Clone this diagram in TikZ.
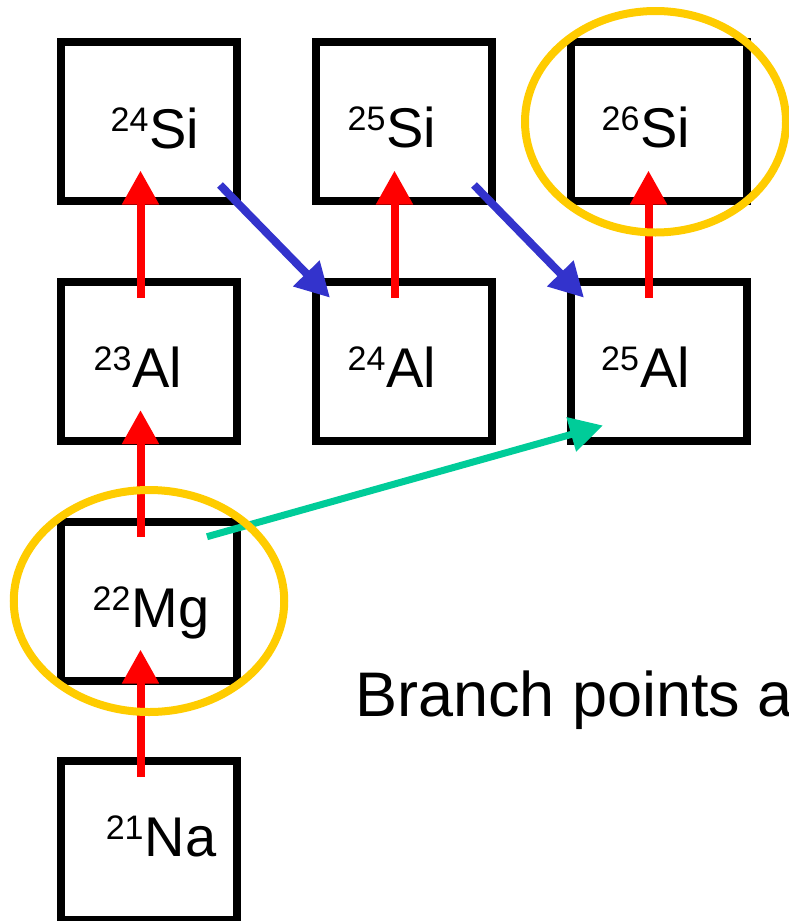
\documentclass[tikz,border=0pt]{standalone}
\usepackage{fontspec}
\setmainfont{Liberation Sans}
\usetikzlibrary{arrows.meta,calc,shapes.geometric}
\definecolor{capred}{HTML}{FF0000}
\definecolor{decayblue}{HTML}{3333CC}
\definecolor{branchgreen}{HTML}{00CC99}
\definecolor{ringgold}{HTML}{FFCC00}
% isotope label: mass number raised, element symbol at base size
\newcommand{\iso}[2]{\raisebox{16.5pt}{\fontsize{34}{34}\selectfont #1}\kern1pt{\fontsize{56}{56}\selectfont #2}}
\begin{document}
\begin{tikzpicture}[x=1pt,y=-1pt,
  nucbox/.style={draw=black,line width=8pt,minimum width=176pt,minimum height=159pt,
    inner sep=0pt,outer sep=0pt,rectangle},
  isolabel/.style={anchor=base,inner sep=0pt,outer sep=0pt},
  ring/.style={draw=ringgold,line width=8pt,ellipse,inner sep=0pt,outer sep=0pt},
  pcap/.style={draw=capred,line width=8pt,-{Triangle[width=35pt,length=34pt]},fill=capred},
  bdecay/.style={draw=decayblue,line width=8pt,-{Triangle[width=35pt,length=34pt]},fill=decayblue},
  branch/.style={draw=branchgreen,line width=7pt,-{Triangle[width=34pt,length=33pt]},fill=branchgreen}]
\useasboundingbox (0,0) rectangle (789,921);
\clip (0,0) rectangle (789,921);

% chart cells
\node[nucbox] (si24) at (149,121.5) {};
\node[nucbox] (si25) at (404,121.5) {};
\node[nucbox] (si26) at (659,121.5) {};
\node[nucbox] (al23) at (149,361.5) {};
\node[nucbox] (al24) at (404,361.5) {};
\node[nucbox] (al25) at (659,361.5) {};
\node[nucbox] (mg22) at (149,601.5) {};
\node[nucbox] (na21) at (149,840.5) {};

% isotope names
\node[isolabel] (si24t) at (155,148.3) {\iso{24}{Si}};
\node[isolabel] (si25t) at (392,147) {\iso{25}{Si}};
\node[isolabel] (si26t) at (646,147) {\iso{26}{Si}};
\node[isolabel] (al23t) at (138,387) {\iso{23}{Al}};
\node[isolabel] (al24t) at (392,387) {\iso{24}{Al}};
\node[isolabel] (al25t) at (645.5,387) {\iso{25}{Al}};
\node[isolabel] (mg22t) at (151,627) {\iso{22}{Mg}};
\node[isolabel] (na21t) at (161,856) {\iso{21}{Na}};

% proton captures
\draw[pcap] ($(na21.north)+(-8.5,16)$) -- ($(mg22.south)+(-8.5,-31.5)$);
\draw[pcap] ($(mg22.north)+(-8.5,15)$) -- ($(al23.south)+(-8.5,-31)$);
\draw[pcap] ($(al23.north)+(-8.5,16)$) -- ($(si24.south)+(-8.5,-30.5)$);
\draw[pcap] ($(al24.north)+(-9.5,16)$) -- ($(si25.south)+(-9.5,-30.5)$);
\draw[pcap] ($(al25.north)+(-10.5,16)$) -- ($(si26.south)+(-10.5,-30.5)$);

% beta decays
\draw[bdecay] ($(si24.south east)+(-17,-16)$) -- ($(al24.north west)+(14,15.7)$);
\draw[bdecay] ($(si25.south east)+(-18,-16)$) -- ($(al25.north west)+(13,15.7)$);

% branch from 22Mg
\draw[branch] ($(mg22.north east)+(-30,14.7)$) -- ($(al25.south west)+(32,-15.5)$);

% branch points
\node[ring,minimum width=261pt,minimum height=221.5pt] (ring26) at (655.5,121.75) {};
\node[ring,minimum width=270.5pt,minimum height=222pt] (ring22) at (149,601) {};

\node[anchor=base west,inner sep=0pt,font=\fontsize{63}{63}\selectfont] (note) at (355,716) {Branch points a};
\end{tikzpicture}
\end{document}
